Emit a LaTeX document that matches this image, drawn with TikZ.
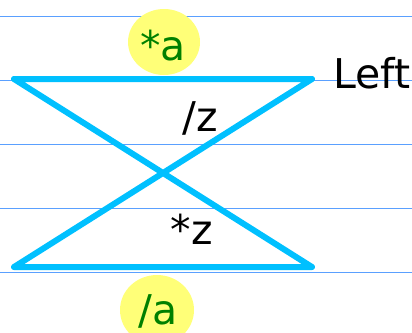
\documentclass[tikz,border=0pt]{standalone}
\usepackage{fontspec}
\setmainfont{DejaVu Sans}
\definecolor{rulecol}{RGB}{90,160,255}
\definecolor{bowcol}{RGB}{0,192,255}
\definecolor{blobcol}{RGB}{255,255,120}
\definecolor{txtgreen}{RGB}{0,128,0}
\tikzset{
  rule/.style={draw=rulecol, line width=1pt},
  bow/.style={draw=bowcol, line width=6pt, line cap=round, line join=round},
  blob/.style={fill=blobcol, draw=none},
  lbl/.style={anchor=base, inner sep=0pt, font=\fontsize{41}{41}\selectfont},
  glbl/.style={lbl, text=txtgreen},
}
\begin{document}
\begin{tikzpicture}[x=1pt,y=-1pt]
\useasboundingbox (0,0) rectangle (412,332);
% ruled lines
\foreach \yy [count=\i] in {16,80,144,208,272} {
  \coordinate (rl\i) at (0,\yy);
  \coordinate (rr\i) at (412,\yy);
  \draw[rule] (rl\i) -- (rr\i);
}
% highlight blobs
\fill[blob] (164,42) ellipse [x radius=36, y radius=33];
\fill[blob] (157,310) ellipse [x radius=37, y radius=35];
% bow-tie
\coordinate (tl) at (14,79);
\coordinate (tr) at (312,79);
\coordinate (bl) at (14,267);
\coordinate (br) at (312,267);
\draw[bow] (tl) -- (tr) -- (bl) -- (br) -- cycle;
% labels
\node[glbl] (sa) at (163,60) {*a};
\node[glbl] (sla) at (158,324) {/a};
\node[lbl] (sz) at (200,131) {/z};
\node[lbl] (stz) at (192,244) {*z};
\node[lbl, anchor=base west] (left) at (333,88) {Left};
\end{tikzpicture}
\end{document}
